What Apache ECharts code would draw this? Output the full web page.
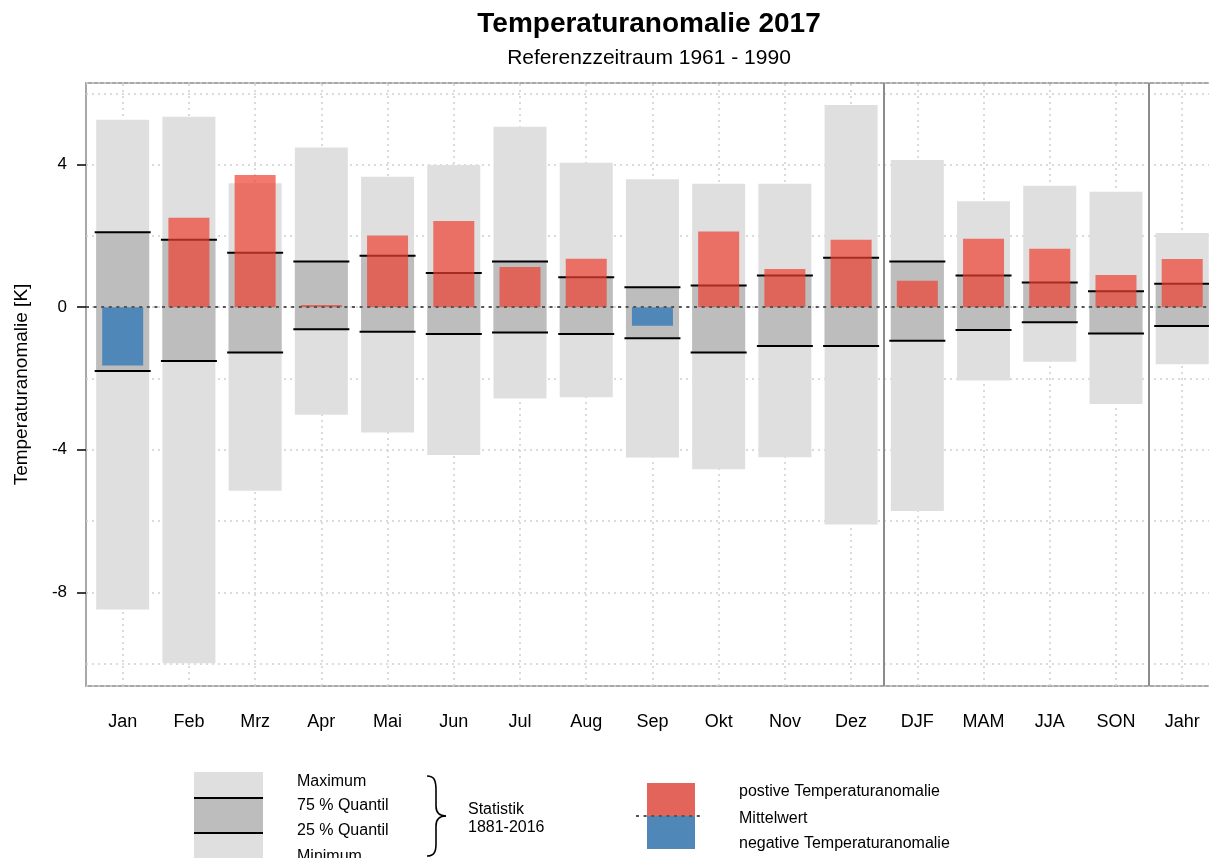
<!DOCTYPE html>
<html>
<head>
<meta charset="utf-8">
<script src="https://cdn.jsdelivr.net/npm/echarts@6/dist/echarts.min.js"></script>
<style>
    html, body { margin: 0; padding: 0; background: #fff; }
    #chart { width: 1209px; height: 858px; }
</style>
</head>
<body>
<div id="chart"></div>
<script>
// periods: 12 months, 4 seasons, year
const categories = ["Jan", "Feb", "Mrz", "Apr", "Mai", "Jun", "Jul", "Aug", "Sep", "Okt", "Nov", "Dez", "DJF", "MAM", "JJA", "SON", "Jahr"];

// statistics 1881-2016 (K, relative to 1961-1990)
const maxValues = [5.26, 5.34, 3.48, 4.48, 3.66, 3.99, 5.06, 4.05, 3.59, 3.46, 3.46, 5.67, 4.13, 2.97, 3.41, 3.24, 2.08];
const q75Values = [2.10, 1.89, 1.53, 1.28, 1.44, 0.96, 1.28, 0.84, 0.56, 0.61, 0.89, 1.39, 1.28, 0.89, 0.69, 0.45, 0.66];
const q25Values = [-1.79, -1.51, -1.27, -0.62, -0.69, -0.75, -0.71, -0.75, -0.87, -1.27, -1.09, -1.09, -0.94, -0.64, -0.42, -0.74, -0.53];
const minValues = [-8.48, -9.99, -5.15, -3.02, -3.52, -4.15, -2.56, -2.53, -4.22, -4.55, -4.21, -6.10, -5.72, -2.06, -1.53, -2.72, -1.60];

// anomaly 2017
const anomaly2017 = [-1.64, 2.51, 3.71, 0.06, 2.01, 2.42, 1.13, 1.36, -0.52, 2.12, 1.07, 1.89, 0.74, 1.92, 1.64, 0.90, 1.35];

const yLabelValues = [-8, -4, 0, 4];
const separators = [11.5, 15.5];

const font = "'Liberation Sans', Arial, sans-serif";
const posColor = "rgba(238, 62, 48, 0.7)";
const negColor = "#5087b9";

const idx = categories.map((c, i) => i);

function rangeBar(width) {
    return function (params, api) {
        const x = api.value(0);
        const top = api.coord([x, api.value(2)]);
        const bottom = api.coord([x, api.value(1)]);
        return {
            type: "rect",
            shape: { x: top[0] - width / 2, y: top[1], width: width, height: bottom[1] - top[1] },
            style: { fill: api.visual("color") },
        };
    };
}

function quantileLines(params, api) {
    const x = api.value(0);
    const lo = api.coord([x, api.value(1)]);
    const hi = api.coord([x, api.value(2)]);
    const w = 56;
    const style = { stroke: "#000", lineWidth: 2 };
    return {
        type: "group",
        children: [
            { type: "line", shape: { x1: lo[0] - w / 2, y1: lo[1], x2: lo[0] + w / 2, y2: lo[1] }, style: style },
            { type: "line", shape: { x1: hi[0] - w / 2, y1: hi[1], x2: hi[0] + w / 2, y2: hi[1] }, style: style },
        ],
    };
}

function legendText(x, y, text) {
    return { type: "text", x: x, y: y, style: { text: text, font: "16px " + font, fill: "#000", verticalAlign: "middle" } };
}

const braceStyle = { fill: "none", stroke: "#000", lineWidth: 1.6 };

const chart = echarts.init(document.getElementById("chart"), null, { renderer: "canvas" });

const gridDots = { color: "#cfcfcf", width: 1.5, type: [2, 4] };

const option = {
    animation: false,
    textStyle: { fontFamily: font },
    title: {
        text: "Temperaturanomalie 2017",
        subtext: "Referenzzeitraum 1961 - 1990",
        left: 644,
        top: 5,
        textAlign: "center",
        itemGap: 10,
        textStyle: { fontFamily: font, fontSize: 28, fontWeight: "bold", color: "#000" },
        subtextStyle: { fontFamily: font, fontSize: 21, color: "#000" },
    },
    grid: {
        left: 86,
        right: -4,
        top: 83,
        bottom: 172,
        outerBoundsMode: "none",
        containLabel: false,
        show: true,
        borderColor: "#a8a8a8",
        borderWidth: 2,
        backgroundColor: "transparent",
    },
    xAxis: {
        type: "value",
        min: -0.554,
        max: 16.465,
        axisLine: { show: false },
        axisTick: { show: true, length: 8, customValues: idx, lineStyle: { color: "#000", width: 1.5 } },
        axisLabel: {
            customValues: idx,
            formatter: (v) => categories[Math.round(v)],
            fontFamily: font,
            fontSize: 18,
            color: "#000",
            margin: 27,
        },
        splitLine: { show: false },
    },
    yAxis: [
        {
            type: "value",
            position: "left",
            min: -10.63,
            max: 6.29,
            minInterval: 2,
            maxInterval: 2,
            axisLine: { show: false },
            axisTick: { show: false },
            axisLabel: { show: false },
            splitLine: { show: true, lineStyle: gridDots },
        },
        {
            type: "value",
            position: "left",
            min: -10.63,
            max: 6.29,
            name: "Temperaturanomalie [K]",
            nameLocation: "middle",
            nameRotate: 90,
            nameGap: 55,
            nameTextStyle: { fontFamily: font, fontSize: 19, color: "#000" },
            axisLine: { show: false },
            axisTick: { show: true, length: 9, customValues: yLabelValues, lineStyle: { color: "#000", width: 1.5 } },
            axisLabel: { customValues: yLabelValues, fontFamily: font, fontSize: 17, color: "#000", margin: 19 },
            splitLine: { show: false },
        },
    ],
    series: [
        {
            // vertical dotted grid at every period, behind the bars
            name: "Gitter",
            type: "line",
            z: 0,
            data: [],
            markLine: {
                z: 0,
                silent: true,
                symbol: "none",
                label: { show: false },
                lineStyle: gridDots,
                data: idx.map((i) => ({ xAxis: i })),
            },
        },
        {
            name: "Min-Max",
            type: "custom",
            z: 1,
            renderItem: rangeBar(53),
            itemStyle: { color: "#dfdfdf" },
            encode: { x: 0, y: [1, 2] },
            data: idx.map((i) => [i, minValues[i], maxValues[i]]),
        },
        {
            name: "Quantile",
            type: "custom",
            z: 2,
            renderItem: rangeBar(53),
            itemStyle: { color: "#bdbdbd" },
            encode: { x: 0, y: [1, 2] },
            data: idx.map((i) => [i, q25Values[i], q75Values[i]]),
        },
        {
            name: "Quantil-Linien",
            type: "custom",
            z: 3,
            renderItem: quantileLines,
            encode: { x: 0, y: [1, 2] },
            data: idx.map((i) => [i, q25Values[i], q75Values[i]]),
        },
        {
            name: "Anomalie 2017",
            type: "bar",
            z: 4,
            barWidth: 41,
            data: idx.map((i) => ({
                value: [i, anomaly2017[i]],
                itemStyle: { color: anomaly2017[i] >= 0 ? posColor : negColor },
            })),
        },
        {
            name: "Marker",
            type: "line",
            z: 5,
            data: [],
            markLine: {
                z: 10,
                silent: true,
                symbol: "none",
                label: { show: false },
                data: [
                    { yAxis: 0, lineStyle: { color: "#555", width: 2, type: [3, 4.6] } },
                    ...separators.map((s) => ({ xAxis: s, lineStyle: { color: "#8c8c8c", width: 2, type: "solid" } })),
                ],
            },
        },
    ],
    graphic: [
        // legend: statistics box
        { type: "rect", shape: { x: 194, y: 772, width: 69, height: 90 }, style: { fill: "#dfdfdf" } },
        { type: "rect", shape: { x: 194, y: 798, width: 69, height: 35 }, style: { fill: "#bdbdbd" } },
        { type: "line", shape: { x1: 194, y1: 798, x2: 263, y2: 798 }, style: { stroke: "#000", lineWidth: 2 } },
        { type: "line", shape: { x1: 194, y1: 833, x2: 263, y2: 833 }, style: { stroke: "#000", lineWidth: 2 } },
        legendText(297, 782, "Maximum"),
        legendText(297, 806, "75 % Quantil"),
        legendText(297, 831, "25 % Quantil"),
        legendText(297, 857, "Minimum"),
        // curly brace
        { type: "bezierCurve", shape: { x1: 427, y1: 776, cpx1: 434, cpy1: 776, cpx2: 436, cpy2: 780, x2: 436, y2: 790 }, style: braceStyle },
        { type: "line", shape: { x1: 436, y1: 790, x2: 436, y2: 806 }, style: braceStyle },
        { type: "bezierCurve", shape: { x1: 436, y1: 806, cpx1: 436, cpy1: 813, cpx2: 440, cpy2: 816, x2: 446, y2: 816 }, style: braceStyle },
        { type: "bezierCurve", shape: { x1: 446, y1: 816, cpx1: 440, cpy1: 816, cpx2: 436, cpy2: 819, x2: 436, y2: 826 }, style: braceStyle },
        { type: "line", shape: { x1: 436, y1: 826, x2: 436, y2: 844 }, style: braceStyle },
        { type: "bezierCurve", shape: { x1: 436, y1: 844, cpx1: 436, cpy1: 852, cpx2: 434, cpy2: 856, x2: 427, y2: 856 }, style: braceStyle },
        legendText(468, 810, "Statistik"),
        legendText(468, 828, "1881-2016"),
        // legend: anomaly
        { type: "rect", shape: { x: 647, y: 783, width: 48, height: 33 }, style: { fill: "#e2645a" } },
        { type: "rect", shape: { x: 647, y: 816, width: 48, height: 33 }, style: { fill: "#5087b9" } },
        { type: "line", shape: { x1: 636, y1: 816, x2: 700, y2: 816 }, style: { stroke: "#555", lineWidth: 2, lineDash: [3, 4.6] } },
        legendText(739, 792, "postive Temperaturanomalie"),
        legendText(739, 819, "Mittelwert"),
        legendText(739, 844, "negative Temperaturanomalie"),
    ],
};

chart.setOption(option);
</script>
</body>
</html>
